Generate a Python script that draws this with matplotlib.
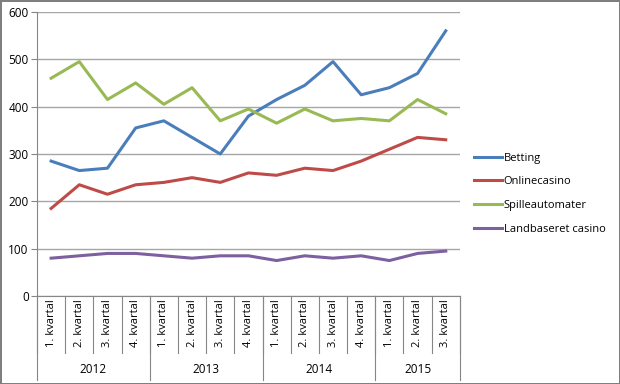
import numpy as np
import matplotlib.pyplot as plt

years = ["2012", "2013", "2014", "2015"]
quarters = ["1. kvartal", "2. kvartal", "3. kvartal", "4. kvartal",
            "1. kvartal", "2. kvartal", "3. kvartal", "4. kvartal",
            "1. kvartal", "2. kvartal", "3. kvartal", "4. kvartal",
            "1. kvartal", "2. kvartal", "3. kvartal"]
year_sizes = [4, 4, 4, 3]

betting = [285, 265, 270, 355, 370, 335, 300, 380, 415, 445, 495, 425, 440, 470, 560]
onlinecasino = [185, 235, 215, 235, 240, 250, 240, 260, 255, 270, 265, 285, 310, 335, 330]
spilleautomater = [460, 495, 415, 450, 405, 440, 370, 395, 365, 395, 370, 375, 370, 415, 385]
landbaseret = [80, 85, 90, 90, 85, 80, 85, 85, 75, 85, 80, 85, 75, 90, 95]

series = [("Betting", betting, "#4A7EBB"),
          ("Onlinecasino", onlinecasino, "#BE4B48"),
          ("Spilleautomater", spilleautomater, "#98B954"),
          ("Landbaseret casino", landbaseret, "#7D60A0")]

plt.rcParams['font.family'] = ['Open Sans', 'DejaVu Sans']
fig = plt.figure(figsize=(6.2, 3.84), dpi=100)
fig.patch.set_edgecolor("#7f7f7f")
fig.patch.set_linewidth(2)
ax = fig.add_axes([0.0597, 0.229, 0.682, 0.740])

x = np.arange(len(quarters)) + 0.5
for name, vals, col in series:
    ax.plot(x, vals, color=col, lw=2.2, label=name)

ax.set_xlim(0, len(quarters))
ax.set_ylim(0, 600)
ax.set_yticks(range(0, 601, 100))
ax.tick_params(axis='y', labelsize=8.5, length=4, color="#868686", pad=2)
ax.yaxis.grid(True, color="#a6a6a6", lw=1)
ax.set_axisbelow(True)
for s in ["top", "right"]:
    ax.spines[s].set_visible(False)
for s in ["left", "bottom"]:
    ax.spines[s].set_color("#868686")
ax.set_xticks([])

tr = ax.get_xaxis_transform()
for xi, lab in zip(x, quarters):
    ax.text(xi, -0.012, lab, transform=tr, rotation=90, ha="center", va="top", fontsize=8)
for i in range(len(quarters) + 1):
    ax.plot([i, i], [0, -0.2], transform=tr, color="#868686", lw=0.8, clip_on=False)
start = 0
for yr, n in zip(years, year_sizes):
    ax.plot([start, start], [0, -0.296], transform=tr, color="#868686", lw=0.8, clip_on=False)
    ax.text(start + n / 2, -0.26, yr, transform=tr, ha="center", va="center", fontsize=8.5)
    start += n
ax.plot([start, start], [0, -0.296], transform=tr, color="#868686", lw=0.8, clip_on=False)

ax.legend(loc="center left", bbox_to_anchor=(1.01, 0.36), frameon=False, fontsize=8,
          handlelength=2.5, handletextpad=0.15, labelspacing=1.15)

fig.savefig("out.png", dpi=100)
